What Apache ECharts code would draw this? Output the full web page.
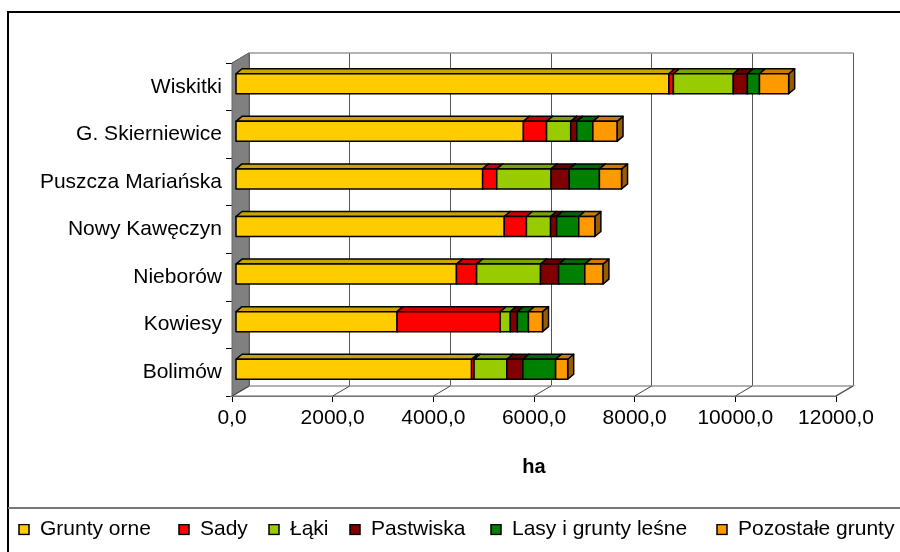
<!DOCTYPE html>
<html><head><meta charset="utf-8">
<script src="https://cdn.jsdelivr.net/npm/echarts@6/dist/echarts.min.js"></script>
<style>html,body{margin:0;padding:0;background:#fff;}#c{width:900px;height:552px;}</style>
</head><body><div id="c"></div>
<script>
const categories = ['Wiskitki','G. Skierniewice','Puszcza Mariańska','Nowy Kawęczyn','Nieborów','Kowiesy','Bolimów'];
const seriesNames = ['Grunty orne','Sady','Łąki','Pastwiska','Lasy i grunty leśne','Pozostałe grunty'];
const gruntyOrne = [8600, 5710, 4900, 5330, 4380, 3200, 4680];
const sady       = [90,   460,  280,  440,  400,  2050, 50];
const laki       = [1190, 480,  1080, 480,  1270, 200,  650];
const pastwiska  = [280,  120,  360,  120,  360,  140,  320];
const lasy       = [240,  320,  600,  440,  520,  220,  650];
const pozostale  = [580,  480,  440,  320,  360,  280,  240];
const xTicks = [0, 2000, 4000, 6000, 8000, 10000, 12000];
const colors = ['#FFCC00','#FF0000','#99CC00','#800000','#008000','#FF9900'];

const FONT = '"Liberation Sans", Arial, sans-serif';
const values = [gruntyOrne, sady, laki, pastwiska, lasy, pozostale];
const legendLefts = [18, 178, 268, 349, 490, 716];

function shade(hex, f){
  const n = parseInt(hex.slice(1),16);
  const r = Math.round(((n>>16)&255)*f), g = Math.round(((n>>8)&255)*f), b = Math.round((n&255)*f);
  return 'rgb('+r+','+g+','+b+')';
}
function iconFor(col){
  const svg = '<svg xmlns="http://www.w3.org/2000/svg" width="12" height="12"><rect x="1" y="1" width="10" height="10" fill="' + col + '" stroke="#000" stroke-width="1.5"/></svg>';
  return 'image://data:image/svg+xml;charset=utf-8,' + encodeURIComponent(svg);
}

const DX = 17, DY = -10;
const BOX = 4, BOY = -3;
const BDX = 6, BDY = -5;
const BAR_H = 20;

const cum = categories.map(() => 0);
const barSeries = values.map((arr, si) => {
  const data = arr.map((v, ci) => { const s = cum[ci]; cum[ci] += v; return [s, cum[ci], ci]; });
  const col = colors[si];
  return {
    name: seriesNames[si], type: 'custom', xAxisIndex: 0, yAxisIndex: 0, z: 10,
    itemStyle: { color: col, borderColor: '#000', borderWidth: 1 },
    data: data,
    renderItem: function(params, api){
      const s = api.value(0), e = api.value(1), c = api.value(2);
      const p0 = api.coord([s, c]), p1 = api.coord([e, c]);
      const x0 = p0[0] + BOX, x1 = p1[0] + BOX, yc = p0[1] + BOY;
      const top = yc - BAR_H/2, bot = yc + BAR_H/2;
      const ls = { stroke: '#000', lineWidth: 1.5, lineJoin: 'round' };
      return { type: 'group', children: [
        { type: 'polygon', shape: { points: [[x1,top],[x1+BDX,top+BDY],[x1+BDX,bot+BDY],[x1,bot]] },
          style: Object.assign({ fill: shade(col, 0.6) }, ls) },
        { type: 'polygon', shape: { points: [[x0,top],[x0+BDX,top+BDY],[x1+BDX,top+BDY],[x1,top]] },
          style: Object.assign({ fill: shade(col, 0.8) }, ls) },
        { type: 'rect', shape: { x: x0, y: top, width: x1 - x0, height: BAR_H },
          style: Object.assign({ fill: col }, ls) }
      ]};
    }
  };
});

const wallSeries = {
  type: 'custom', xAxisIndex: 0, yAxisIndex: 0, z: 3, silent: true,
  data: [[0]],
  renderItem: function(params, api){
    const cs = params.coordSys;
    const L = cs.x, T = cs.y, R = cs.x + cs.width, B = cs.y + cs.height;
    return { type: 'group', children: [
      { type: 'polygon', shape: { points: [[L,B],[R,B],[R+DX,B+DY],[L+DX,B+DY]] },
        style: { fill: '#fff', stroke: '#999', lineWidth: 1.5 } },
      { type: 'polygon', shape: { points: [[L,T],[L+DX,T+DY],[L+DX,B+DY],[L,B]] },
        style: { fill: '#808080', stroke: '#666', lineWidth: 1 } }
    ]};
  }
};
const floorLines = {
  type: 'custom', xAxisIndex: 0, yAxisIndex: 0, z: 4, silent: true,
  data: xTicks.map(v => [v]),
  renderItem: function(params, api){
    const cs = params.coordSys;
    const B = cs.y + cs.height;
    const x = api.coord([api.value(0), 0])[0];
    return { type: 'line', shape: { x1: x, y1: B, x2: x + DX, y2: B + DY },
      style: { stroke: '#444', lineWidth: 1 } };
  }
};

const legends = seriesNames.map((n, i) => ({
  left: legendLefts[i], top: 519, itemWidth: 12, itemHeight: 12, padding: 0,
  data: [{ name: n, icon: iconFor(colors[i]) }],
  textStyle: { fontSize: 21, color: '#000', fontFamily: FONT, padding: [0, 0, 0, 5] }
}));

const chart = echarts.init(document.getElementById('c'));
chart.setOption({
  animation: false,
  textStyle: { fontFamily: FONT },
  grid: [
    { left: 232, top: 63, width: 604, height: 333 },
    { left: 232 + DX, top: 63 + DY, width: 604, height: 333 }
  ],
  xAxis: [
    { gridIndex: 0, type: 'value', min: 0, max: 12000, interval: 2000,
      axisLine: { show: true, lineStyle: { color: '#000', width: 1 } },
      axisTick: { show: true, length: 6, lineStyle: { color: '#000' } },
      splitLine: { show: false },
      axisLabel: { margin: 12, fontSize: 21, color: '#000', fontFamily: FONT,
        formatter: v => v.toFixed(1).replace('.', ',') },
      name: 'ha', nameLocation: 'middle', nameGap: 61,
      nameTextStyle: { fontSize: 20, fontWeight: 'bold', color: '#000', fontFamily: FONT } },
    { gridIndex: 1, type: 'value', min: 0, max: 12000, interval: 2000, position: 'top',
      axisLine: { show: true, lineStyle: { color: '#999', width: 1.5 } },
      axisTick: { show: false }, axisLabel: { show: false },
      splitLine: { show: true, lineStyle: { color: '#555', width: 1 } } }
  ],
  yAxis: [
    { gridIndex: 0, type: 'category', data: categories, inverse: true,
      axisLine: { show: true, lineStyle: { color: '#000', width: 1 } },
      axisTick: { show: true, length: 6, lineStyle: { color: '#000' } },
      axisLabel: { margin: 10, fontSize: 21, color: '#000', fontFamily: FONT } },
    { gridIndex: 1, type: 'category', data: categories, inverse: true, show: false }
  ],
  legend: legends,
  graphic: [
    { type: 'rect', silent: true, shape: { x: 8, y: 12, width: 900, height: 560 },
      style: { fill: 'none', stroke: '#000', lineWidth: 2 } },
    { type: 'line', silent: true, shape: { x1: 8, y1: 508, x2: 900, y2: 508 },
      style: { stroke: '#777', lineWidth: 2 } },
    { type: 'line', silent: true, shape: { x1: 232, y1: 63, x2: 232 + DX, y2: 63 + DY },
      style: { stroke: '#555', lineWidth: 1 } }
  ],
  series: [wallSeries, floorLines].concat(barSeries)
});
</script></body></html>
